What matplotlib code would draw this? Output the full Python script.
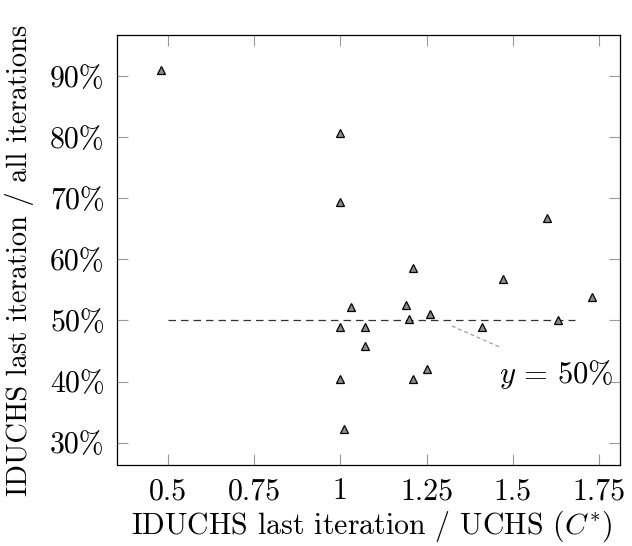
import matplotlib
matplotlib.use("Agg")
import matplotlib.pyplot as plt

plt.rcParams['font.family'] = 'serif'
plt.rcParams['font.serif'] = ['cmr10']
plt.rcParams['mathtext.fontset'] = 'cm'
plt.rcParams['axes.unicode_minus'] = False

# data
ratio_uchs = [0.48, 1.00, 1.00, 1.60, 1.21, 1.47, 1.73, 1.03, 1.19, 1.26,
              1.20, 1.63, 1.00, 1.07, 1.41, 1.07, 1.00, 1.21, 1.25, 1.01]
share_last = [91.0, 80.7, 69.4, 66.7, 58.6, 56.8, 53.8, 52.2, 52.5, 51.1,
              50.3, 50.1, 48.9, 48.9, 48.9, 45.8, 40.5, 40.4, 42.0, 32.2]

x_ticks = [0.5, 0.75, 1, 1.25, 1.5, 1.75]
x_tick_labels = ['0.5', '0.75', '1', '1.25', '1.5', '1.75']
y_ticks = [30, 40, 50, 60, 70, 80, 90]
y_tick_labels = ['30%', '40%', '50%', '60%', '70%', '80%', '90%']

ref_x = [0.5, 1.68]
ref_y = [50, 50]

fig = plt.figure(figsize=(6.32, 5.46), dpi=100)
W, H = 632, 546
ax = fig.add_axes([117.3 / W, 1 - 465.3 / H, (620 - 117.3) / W, (465.3 - 35) / H])

ax.plot(ref_x, ref_y, ls=(0, (6, 4)), color='#333333', lw=0.9, zorder=2)
ax.plot(ratio_uchs, share_last, ls='none', marker='^', ms=5.5,
        mfc='#8c8c8c', mec='black', mew=0.9, zorder=3)

# pin for the reference line
ax.plot([1.323, 1.463], [49.1, 45.6], ls=(0, (4, 3)), color='#888888', lw=0.7)
ax.text(1.627, 41.2, r'$y\,=\,50\%$', fontsize=22, ha='center', va='center')

ax.set_xlim(0.354, 1.81)
ax.set_ylim(26.3, 96.7)
ax.set_xticks(x_ticks)
ax.set_xticklabels(x_tick_labels)
ax.set_yticks(y_ticks)
ax.set_yticklabels(y_tick_labels)

ax.tick_params(direction='in', length=8, width=0.8, color='#999999',
               top=True, right=True, labelsize=21.5, pad=9)
for s in ax.spines.values():
    s.set_linewidth(0.9)

ax.set_xlabel(r'IDUCHS last iteration / UCHS ($C^{*}$)', fontsize=21.5)
ax.xaxis.set_label_coords(0.505, -0.1)
ax.set_ylabel('IDUCHS last iteration / all iterations', fontsize=20.5)
ax.yaxis.set_label_coords(-0.165, 0.476)

fig.savefig('out.png', dpi=100)
